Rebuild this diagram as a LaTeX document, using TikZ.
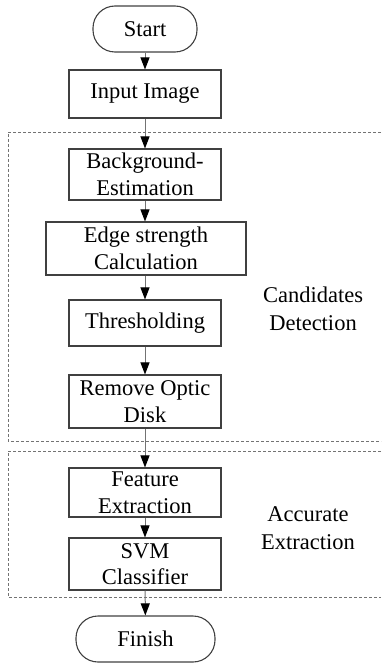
\documentclass[tikz,border=0pt]{standalone}
\usepackage{fontspec}
\setmainfont{Liberation Serif}
\usetikzlibrary{arrows.meta}
\begin{document}
\begin{tikzpicture}[x=1pt,y=-1pt,
  every node/.style={font=\fontsize{22.5}{26.5}\selectfont, align=center, inner sep=0pt},
  proc/.style={draw=black!75, line width=1.1pt, rectangle},
  term/.style={draw=black!75, line width=1.1pt, rectangle, rounded corners=22pt},
  arr/.style={draw=black!55, line width=1pt, -{Triangle[length=12pt,width=9pt,color=black]}},
  grp/.style={draw=black!55, line width=0.9pt, dash pattern=on 3pt off 2pt},
  lbl/.style={font=\fontsize{22.5}{28}\selectfont}]
\useasboundingbox (0,0) rectangle (381,663);
% groups
\draw[grp] (381,132) -- (8,132) -- (8,441) -- (381,441);
\draw[grp] (381,451) -- (8,451) -- (8,597) -- (381,597);
% nodes
\node[term, minimum width=104pt, minimum height=46pt] (start) at (145,29) {Start};
\node[proc, minimum width=152pt, minimum height=48pt] (input) at (145,94) {Input Image};
\node[proc, minimum width=152pt, minimum height=51pt] (bg) at (145,174.5) {Background-\\Estimation};
\node[proc, minimum width=200pt, minimum height=53pt] (edge) at (146,248.5) {Edge strength\\Calculation};
\node[proc, minimum width=152pt, minimum height=46pt] (thr) at (145,323) {Thresholding};
\node[proc, minimum width=152pt, minimum height=53pt] (rem) at (145,401.5) {Remove Optic\\Disk};
\node[proc, minimum width=152pt, minimum height=49pt] (feat) at (145,492.5) {Feature\\Extraction};
\node[proc, minimum width=152pt, minimum height=52pt] (svm) at (145,564) {SVM\\Classifier};
\node[term, minimum width=139pt, minimum height=46pt] (fin) at (145.5,639) {Finish};
\node[lbl] (cd) at (313,309) {Candidates\\Detection};
\node[lbl] (ae) at (308,528) {Accurate\\Extraction};
% connectors
\draw[arr] (start) -- (input);
\draw[arr] (input) -- (bg);
\draw[arr] (bg) -- (bg|-edge.north);
\draw[arr] (edge.south-|thr) -- (thr);
\draw[arr] (thr) -- (rem);
\draw[arr] (rem) -- (feat);
\draw[arr] (feat) -- (svm);
\draw[arr] (svm) -- (fin);
\end{tikzpicture}
\end{document}
